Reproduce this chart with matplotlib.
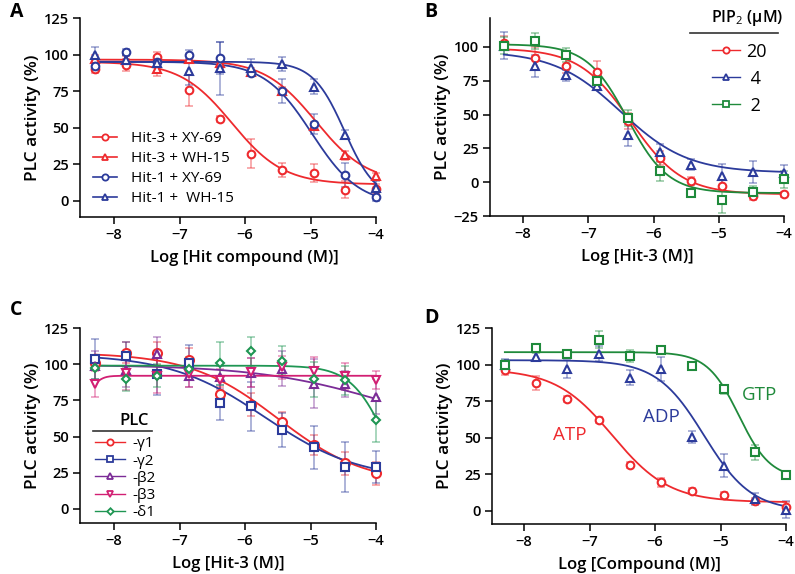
import numpy as np
import matplotlib
matplotlib.use("Agg")
import matplotlib.pyplot as plt

plt.rcParams['font.family'] = ['Open Sans', 'DejaVu Sans']
plt.rcParams['mathtext.fontset'] = 'custom'
plt.rcParams['mathtext.rm'] = 'Open Sans'

# log concentrations (3-fold dilutions)
log_conc = [-8.294, -7.817, -7.34, -6.863, -6.386, -5.908, -5.431, -4.954, -4.477, -4.0]

RED = '#ee2a2e'
BLUE = '#2c3b9b'
GREEN = '#1f8a3b'
PURPLE = '#7b2c97'
MAGENTA = '#d21f73'
GREEN2 = '#1f9653'

# ---- panel A ----
a_labels = ['Hit-3 + XY-69', 'Hit-3 + WH-15', 'Hit-1 + XY-69', 'Hit-1 +  WH-15']
a_hit3_xy = [90, 93, 98.5, 76, 56, 32, 21, 19, 7.5, 8]
a_hit3_wh = [97, 96, 90, 97, 94, 88, 75, 51, 31, 17]
a_hit1_xy = [92, 101.5, 95, 100, 97.5, 87.5, 75, 52.5, 17.5, 2.5]
a_hit1_wh = [100, 96, 94, 89, 90.5, 91, 93.5, 78, 45, 8.5]
a_err = [[3, 4, 3, 11, 2, 10, 5, 6, 6, 3],
         [3, 3, 5, 3, 3, 3, 3, 3, 3, 2],
         [3, 2, 3, 3, 11, 2, 8, 7, 8, 3],
         [5, 4, 5, 10, 18, 6, 5, 5, 3, 5]]
# fit params: top, bottom, logIC50, hill
a_fit = [[95, 11, -6.2, 1.1], [96.5, 12, -4.92, 1.1], [95, -3, -4.98, 1.2], [95, 0, -4.48, 1.8]]

# ---- panel B ----
b_labels = ['20', ' 4', ' 2']
b_20 = [103, 92, 86, 81.5, 45, 18, 1, -2.5, -10, -9]
b_4 = [101, 86, 79, 71, 35, 22, 13, 4.5, 7.5, 7]
b_2 = [101, 104.5, 94, 75, 47.5, 8, -8, -13, -7, 2]
b_err = [[5, 8, 5, 8, 6, 5, 3, 4, 3, 2],
         [10, 8, 4, 3, 8, 6, 4, 9, 8, 6],
         [6, 6, 5, 5, 6, 7, 2, 10, 4, 6]]
b_fit = [[99, -9, -6.35, 1.1], [97, 7, -6.5, 0.85], [102, -8, -6.4, 1.4]]

# ---- panel C ----
c_labels = ['-γ1', '-γ2', '-β2', '-β3', '-δ1']
c_g1 = [101, 108, 107.5, 103, 79.5, 72, 60, 44, 31.5, 24.5]
c_g2 = [103.5, 105.5, 93, 101, 73.5, 71, 54.5, 42.5, 29, 29]
c_b2 = [99, 96, 107, 92, 91, 94, 97, 86.5, 86, 77.5]
c_b3 = [86, 94, 92, 93, 89, 94.5, 98, 95, 91.5, 89]
c_d1 = [97.5, 89.5, 92, 97, 100.5, 109, 102.5, 89.5, 89, 61.5]
c_err = [[5, 7, 8, 8, 5, 8, 7, 7, 8, 8],
         [14, 10, 14, 12, 12, 17, 12, 15, 17, 11],
         [10, 12, 12, 8, 8, 10, 12, 17, 9, 12],
         [9, 12, 12, 9, 8, 10, 8, 10, 9, 6],
         [8, 8, 8, 8, 15, 10, 10, 12, 10, 15]]
c_fit = [[108, 17, -5.5, 0.65], [107, 20, -5.7, 0.6], [99.5, 50, -3.9, 0.45],
         [80, 92, -8.3, 6], [99, 0, -3.85, 1.6]]

# ---- panel D ----
d_labels = ['ATP', 'ADP', 'GTP']
d_atp = [96, 87.5, 76.5, 62, 31.5, 19.5, 13.5, 11, 7, 3]
d_adp = [100, 105.5, 97, 107.5, 91, 97, 50.5, 31, 8, 1]
d_gtp = [100, 111, 107, 117, 106, 110, 99, 83, 40, 24.5]
d_err = [[3, 5, 2, 2, 2, 3, 2, 2, 2, 3],
         [4, 3, 6, 5, 5, 8, 4, 8, 4, 6],
         [3, 3, 2, 6, 4, 2, 3, 3, 5, 2]]
d_fit = [[97, 6, -6.65, 1.0], [103, 0, -5.25, 1.2], [108.5, 22, -4.72, 1.8]]
d_label_pos = [(-7.31, 52), (-5.91, 64.5), (-4.41, 79)]


def four_pl(x, top, bottom, ic50, hill):
    return bottom + (top - bottom) / (1 + 10 ** ((x - ic50) * hill))


def draw_series(ax, y, err, fit, color, marker, ms=5.5):
    x = np.array(log_conc)
    ax.errorbar(x, y, yerr=err, fmt='none', ecolor=color, alpha=0.45,
                elinewidth=1.2, capsize=3, capthick=1.2, clip_on=False, zorder=2)
    xs = np.linspace(log_conc[0], log_conc[-1], 300)
    ax.plot(xs, four_pl(xs, *fit), color=color, lw=1.3, zorder=3, clip_on=False)
    ax.plot(x, y, linestyle='none', marker=marker, ms=ms, mfc='white', mec=color,
            mew=1.5, zorder=4, clip_on=False)


def style_axes(ax, xlim, ylim, yticks, xlabel):
    ax.set_xlim(*xlim)
    ax.set_ylim(*ylim)
    ax.set_xticks([-8, -7, -6, -5, -4])
    ax.set_yticks(yticks)
    for s in ['top', 'right']:
        ax.spines[s].set_visible(False)
    for s in ['left', 'bottom']:
        ax.spines[s].set_linewidth(1.1)
    ax.tick_params(direction='out', length=5, width=1.1, labelsize=10.5, pad=3)
    for lab in ax.get_xticklabels() + ax.get_yticklabels():
        lab.set_fontweight('semibold')
    ax.set_xlabel(xlabel, fontsize=12, fontweight='semibold', labelpad=6)
    ax.set_ylabel('PLC activity (%)', fontsize=12.5, fontweight='semibold', labelpad=2)


W, H = 795, 574
fig = plt.figure(figsize=(W / 100, H / 100), dpi=100)


def px_axes(l, r, t, b):
    return fig.add_axes([l / W, 1 - b / H, (r - l) / W, (b - t) / H])


axA = px_axes(80, 376, 18, 217)
axB = px_axes(490, 784, 18, 216)
axC = px_axes(80, 376, 328, 523)
axD = px_axes(492, 786, 328, 524)

# panel A
a_data = [a_hit3_xy, a_hit3_wh, a_hit1_xy, a_hit1_wh]
a_style = [(RED, 'o'), (RED, '^'), (BLUE, 'o'), (BLUE, '^')]
handles = []
for y, e, f, (c, m), lab in zip(a_data, a_err, a_fit, a_style, a_labels):
    draw_series(axA, y, e, f, c, m)
    h, = axA.plot([], [], color=c, marker=m, ms=4.5, mfc='white', mew=1.3, lw=1.2, label=lab)
    handles.append(h)
style_axes(axA, (-8.52, -4), (-11.3, 125), [0, 25, 50, 75, 100, 125], 'Log [Hit compound (M)]')
axA.xaxis.label.set_x(0.557)
axA.legend(handles=handles, loc='upper left', bbox_to_anchor=(0.044, 0.43), frameon=False,
           fontsize=11, handlelength=1.6, labelspacing=0.32, handletextpad=0.9,
           borderaxespad=0, borderpad=0)

# panel B
b_data = [b_20, b_4, b_2]
b_style = [(RED, 'o'), (BLUE, '^'), (GREEN, 's')]
handles = []
for y, e, f, (c, m), lab in zip(b_data, b_err, b_fit, b_style, b_labels):
    draw_series(axB, y, e, f, c, m)
    h, = axB.plot([], [], color=c, marker=m, ms=4.5, mfc='white', mew=1.3, lw=1.0, label=lab)
    handles.append(h)
style_axes(axB, (-8.506, -4), (-25, 121.4), [-25, 0, 25, 50, 75, 100], 'Log [Hit-3 (M)]')
axB.legend(handles=handles, loc='upper left', bbox_to_anchor=(0.755, 0.875), frameon=False,
           fontsize=13, handlelength=1.55, labelspacing=0.5, handletextpad=0.35,
           borderaxespad=0, borderpad=0)
axB.text(0.875, 1.0, 'PIP$_2$ (μM)', transform=axB.transAxes, ha='center', va='center',
         fontsize=11.5, fontweight='semibold')
axB.plot([0.68, 0.98], [0.925, 0.925], transform=axB.transAxes, color='#333333', lw=1.2,
         clip_on=False)

# panel C
c_data = [c_g1, c_g2, c_b2, c_b3, c_d1]
c_style = [(RED, 'o', 6.5), (BLUE, 's', 5.5), (PURPLE, '^', 5.5), (MAGENTA, 'v', 5.5), (GREEN2, 'D', 4)]
handles = []
for y, e, f, (c, m, ms), lab in zip(c_data, c_err, c_fit, c_style, c_labels):
    draw_series(axC, y, e, f, c, m, ms=ms)
    h, = axC.plot([], [], color=c, marker=m, ms=4.5 if m != 'D' else 3.3, mfc='white',
                  mew=1.3, lw=1.0, label=lab)
    handles.append(h)
style_axes(axC, (-8.52, -4), (-9.7, 125), [0, 25, 50, 75, 100, 125], 'Log [Hit-3 (M)]')
axC.legend(handles=handles, loc='upper left', bbox_to_anchor=(0.05, 0.445), frameon=False,
           fontsize=11, handlelength=2.0, labelspacing=0.15, handletextpad=0.45,
           borderaxespad=0, borderpad=0)
axC.text(0.182, 0.523, 'PLC', transform=axC.transAxes, ha='center', va='center',
         fontsize=12, fontweight='semibold')
axC.plot([0.044, 0.243], [0.472, 0.472], transform=axC.transAxes, color='#333333', lw=1.2,
         clip_on=False)

# panel D
d_data = [d_atp, d_adp, d_gtp]
d_style = [(RED, 'o'), (BLUE, '^'), (GREEN, 's')]
for y, e, f, (c, m) in zip(d_data, d_err, d_fit, d_style):
    draw_series(axD, y, e, f, c, m)
style_axes(axD, (-8.49, -4), (-8.9, 125), [0, 25, 50, 75, 100, 125], 'Log [Compound (M)]')
for lab, (x, y), c in zip(d_labels, d_label_pos, [RED, BLUE, GREEN]):
    axD.text(x, y, lab, color=c, fontsize=13.5, ha='center', va='center')

# panel letters
for lab, (x, y) in zip('ABCD', [(10, 12), (424, 12), (10, 310), (424, 318)]):
    fig.text(x / W, 1 - y / H, lab, fontsize=14, fontweight='bold', ha='left', va='center')

fig.savefig('out.png', dpi=100)
